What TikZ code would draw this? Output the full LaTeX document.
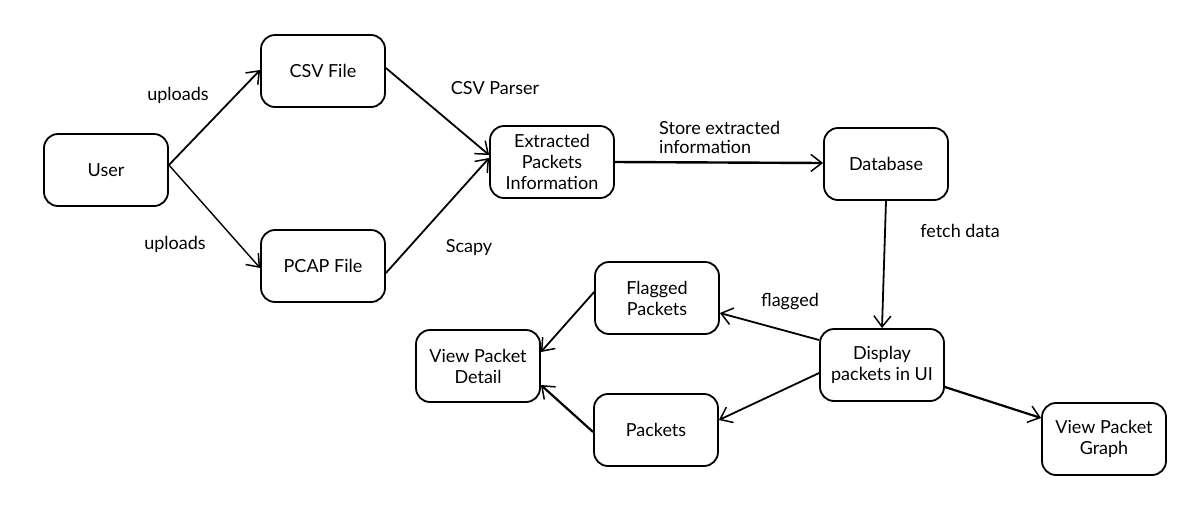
\documentclass[tikz,border=0pt]{standalone}
\usepackage{fontspec}
\setmainfont{Lato}
\usetikzlibrary{arrows.meta,calc}
\begin{document}
\begin{tikzpicture}[x=1pt,y=-1pt,
  box/.style={draw=black,line width=1.8pt,rounded corners=14pt,minimum width=124pt,minimum height=72pt,align=center,font=\fontsize{18}{21}\selectfont,inner sep=2pt},
  arr/.style={line width=1.8pt,-{Straight Barb[length=11pt,width=17pt,line width=1.5pt]}},
  lbl/.style={font=\fontsize{18}{19}\selectfont,inner sep=0pt}]
\useasboundingbox (0,0) rectangle (1186,507);
\fill[white] (0,0) rectangle (1186,507);
\node[box] (user) at (106,170) {User};
\node[box] (csv) at (323,71) {CSV File};
\node[box] (pcap) at (323,266) {PCAP File};
\node[box] (ext) at (552,162) {Extracted\\Packets\\Information};
\node[box] (db) at (886,164) {Database};
\node[box] (flag) at (657,298) {Flagged\\Packets};
\node[box] (detail) at (478,366) {View Packet\\Detail};
\node[box] (pk) at (656,430) {Packets};
\node[box] (disp) at (882,365) {Display\\packets in UI};
\node[box] (graph) at (1104,439) {View Packet\\Graph};

\draw[arr] ([yshift=5pt]user.east) -- ([yshift=1pt]csv.west);
\draw[arr,line width=1.4pt] ([yshift=5pt]user.east) -- ([yshift=-2pt]pcap.west);
\draw[arr] ([yshift=3pt]csv.east) -- ([yshift=7pt]ext.west);
\draw[arr] ([yshift=-7pt]pcap.east) -- ([yshift=4pt]ext.west);
\draw[arr,line width=2.4pt] (ext.east) -- ([yshift=1pt]db.west);
\draw[arr] (db.south) -- (disp.north);
\draw[arr] ([yshift=25pt]disp.west) -- ([yshift=-15pt]flag.east);
\draw[arr] ([yshift=-8pt]disp.west) -- ([yshift=10pt]pk.east);
\draw[arr,line width=2.2pt] ([yshift=-22pt]disp.east) -- ([yshift=21pt]graph.west);
\draw[arr] ([yshift=6pt]flag.west) -- ([yshift=14pt]detail.east);
\draw[arr,line width=2.2pt] ([yshift=-2pt]pk.west) -- ([yshift=-19pt]detail.east);

\node[lbl] (l1) at (178,95) {uploads};
\node[lbl] (l2) at (175,244) {uploads};
\node[lbl] (l3) at (495,88) {CSV Parser};
\node[lbl] (l4) at (469,248) {Scapy};
\node[lbl,align=left,anchor=north west] (l5) at (659,121) {Store extracted\\information};
\node[lbl] (l6) at (960,231) {fetch data};
\node[lbl] (l7) at (790,302) {flagged};
\end{tikzpicture}
\end{document}
